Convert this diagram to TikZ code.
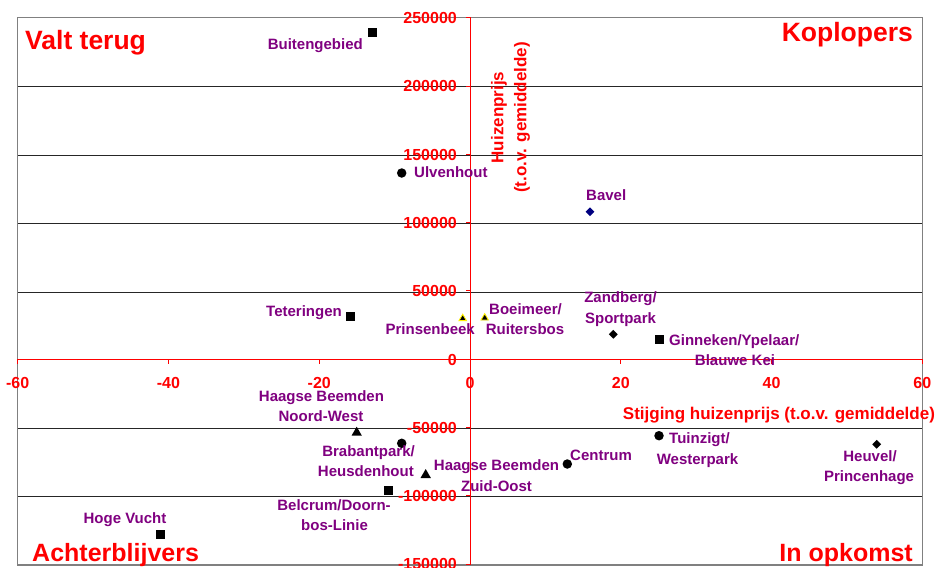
\documentclass[tikz,border=0pt]{standalone}
\usepackage{fontspec}
\setmainfont{Liberation Sans}
\usetikzlibrary{shapes.geometric}
\definecolor{plum}{HTML}{800080}
\definecolor{navyb}{HTML}{000080}
\definecolor{bordergray}{HTML}{808080}
\begin{document}
\begin{tikzpicture}[x=1pt,y=-1pt,
  lab/.style={text=plum, font=\fontsize{15}{20}\selectfont\bfseries, inner sep=0pt},
  ticklab/.style={text=red, font=\fontsize{16}{18}\selectfont\bfseries, inner sep=0pt},
  quad/.style={text=red, font=\fontsize{26.5}{30}\selectfont\bfseries, inner sep=0pt},
  quadsm/.style={text=red, font=\fontsize{25}{30}\selectfont\bfseries, inner sep=0pt},
  axtitle/.style={text=red, font=\fontsize{17}{23}\selectfont\bfseries, inner sep=0pt, align=center},
  grid line/.style={black!85, line width=0.9pt},
  axisline/.style={red, line width=1pt},
  mksq/.style={rectangle, fill=black, minimum size=9pt, inner sep=0pt},
  mkdot/.style={circle, fill=black, minimum size=9.5pt, inner sep=0pt},
  mktri/.style={regular polygon, regular polygon sides=3, fill=black, minimum size=12pt, inner sep=0pt},
  mkytri/.style={regular polygon, regular polygon sides=3, fill=black, draw=yellow, line width=0.9pt, minimum size=8.5pt, inner sep=0pt},
  mkdia/.style={diamond, fill=black, minimum width=9pt, minimum height=9pt, inner sep=0pt}
]
\useasboundingbox (0,0) rectangle (941,567);
\fill[white] (0,0) rectangle (941,567);

% grid lines
\foreach \y in {86.4,155,223.7,292.3,428.6,496.9}
  \draw[grid line] (17.7,\y) -- (922.3,\y);
% border
\draw[bordergray, line width=1.2pt] (17.7,17.7) rectangle (922.3,565);

% axes
\draw[axisline] (17.7,359.3) -- (922.3,359.3);
\draw[axisline] (470.5,17.7) -- (470.5,565);
\foreach \X in {-60,-40,...,60} {
  \draw[axisline] ({470+7.538*\X},359.3) -- ++(0,4.5);
  \node[ticklab, anchor=base] (xt\X) at ({470+7.538*\X},388.5) {\X};
}
\foreach \Y/\T in {250/250000,200/200000,150/150000,100/100000,50/50000,0/0,-50/-50000,-100/-100000,-150/-150000} {
  \draw[axisline] (466,{359.3-1.3664*\Y}) -- (470.5,{359.3-1.3664*\Y});
  \node[ticklab, anchor=base east] (yt\Y) at (457,{359.3-1.3664*\Y+5.7}) {\T};
}

% axis titles
\node[axtitle, rotate=90] (ytitle) at (510.5,117.5) {Huizenprijs\\(t.o.v. gemiddelde)};
\node[axtitle, anchor=base west] (xtitle) at (622.7,419.3) {Stijging huizenprijs (t.o.v. gemiddelde)};

% quadrant labels
\node[quad, anchor=base west] (qVT) at (25,49.3) {Valt terug};
\node[quad, anchor=base east] (qKP) at (913,41.7) {Koplopers};
\node[quadsm, anchor=base west] (qAB) at (32,561) {Achterblijvers};
\node[quadsm, anchor=base east] (qIO) at (913,561.7) {In opkomst};

% markers
\node[mksq] (mBuit) at (372,32.5) {};
\node[mkdot] (mUlv) at (401.7,173) {};
\node[mkdia, fill=navyb] (mBav) at (590,211.7) {};
\node[mksq] (mTet) at (350,316.7) {};
\node[mkytri] (mPrin) at (462.7,318.5) {};
\node[mkytri] (mBoei) at (484.7,317.9) {};
\node[mkdia] (mZand) at (613.3,334.3) {};
\node[mksq] (mGinn) at (659,339.3) {};
\node[mktri] (mHBNW) at (356.7,432.7) {};
\node[mkdot] (mBrab) at (401.7,443.3) {};
\node[mktri] (mHBZO) at (425.7,475) {};
\node[mksq] (mBelc) at (388.3,490.7) {};
\node[mksq] (mHoge) at (160.7,534) {};
\node[mkdot] (mCent) at (567.3,464) {};
\node[mkdot] (mTuin) at (659,435.7) {};
\node[mkdia] (mHeuv) at (876.7,444.3) {};

% point labels
\node[lab, anchor=base east] (lBuit) at (363,49.3) {Buitengebied};
\node[lab, anchor=base west] (lUlv) at (414,177) {Ulvenhout};
\node[lab, anchor=base west] (lBav) at (586,200.7) {Bavel};
\node[lab, anchor=base east] (lTet) at (342,316) {Teteringen};
\node[lab, anchor=base east] (lPrin) at (475,334.3) {Prinsenbeek};
\node[lab, anchor=base] (lBoeiA) at (525.5,314.7) {Boeimeer/};
\node[lab, anchor=base] (lBoeiB) at (525,334.3) {Ruitersbos};
\node[lab, anchor=base] (lZandA) at (620.5,302.7) {Zandberg/};
\node[lab, anchor=base] (lZandB) at (620.5,323) {Sportpark};
\node[lab, anchor=base west] (lGinnA) at (669,345) {Ginneken/Ypelaar/};
\node[lab, anchor=base] (lGinnB) at (735,365) {Blauwe Kei};
\node[lab, anchor=base] (lHBNWA) at (321.5,401) {Haagse Beemden};
\node[lab, anchor=base] (lHBNWB) at (321,421.7) {Noord-West};
\node[lab, anchor=base east] (lBrabA) at (415,456) {Brabantpark/};
\node[lab, anchor=base east] (lBrabB) at (414,476) {Heusdenhout};
\node[lab, anchor=base] (lHBZOA) at (496.5,470.7) {Haagse Beemden};
\node[lab, anchor=base] (lHBZOB) at (496.5,491) {Zuid-Oost};
\node[lab, anchor=base] (lBelcA) at (334,510.7) {Belcrum/Doorn-};
\node[lab, anchor=base] (lBelcB) at (334.5,530.7) {bos-Linie};
\node[lab, anchor=base] (lHoge) at (125,523) {Hoge Vucht};
\node[lab, anchor=base west] (lCent) at (570,460) {Centrum};
\node[lab, anchor=base west] (lTuinA) at (669,443) {Tuinzigt/};
\node[lab, anchor=base] (lTuinB) at (697.5,464) {Westerpark};
\node[lab, anchor=base] (lHeuvA) at (870,461.7) {Heuvel/};
\node[lab, anchor=base] (lHeuvB) at (869,481.7) {Princenhage};
\end{tikzpicture}
\end{document}
